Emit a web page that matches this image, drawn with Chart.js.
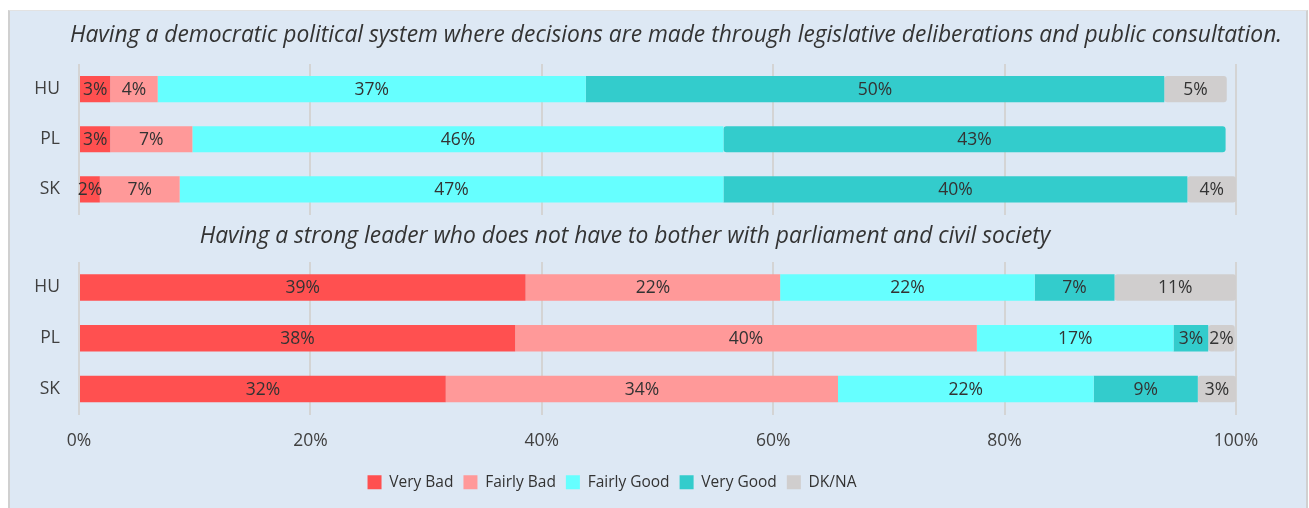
<!DOCTYPE html>
<html>
<head>
<meta charset="utf-8">
<script src="https://cdn.jsdelivr.net/npm/chart.js@4.4.1/dist/chart.umd.min.js"></script>
<style>
  html, body { margin: 0; padding: 0; background: #ffffff; }
  #panel {
    position: absolute; left: 8px; top: 10px; width: 1296px; height: 500px;
    background: #dde8f4; border-left: 2px solid #d0d0d0; border-right: 2px solid #d0d0d0;
    border-top: 1px solid #e2e2e2;
  }
  #topWrap { position: absolute; left: 0; top: 10px; width: 1309px; height: 234px; }
  #botWrap { position: absolute; left: 0; top: 215px; width: 1309px; height: 293px; }
</style>
</head>
<body>
<div id="panel"></div>
<div id="topWrap"><canvas id="topChart"></canvas></div>
<div id="botWrap"><canvas id="botChart"></canvas></div>
<script>
// ========================================================
// Data
// ========================================================
const countries = ["HU", "PL", "SK"];
const seriesNames = ["Very Bad", "Fairly Bad", "Fairly Good", "Very Good", "DK/NA"];
const seriesColors = ["#ff5050", "#ff9999", "#66ffff", "#33cccc", "#d0cece"];

// Having a democratic political system ...
const demTitle = "Having a democratic political system where decisions are made through legislative deliberations and public consultation.";
const demVeryBad = [2.7, 2.7, 1.8];
const demFairlyBad = [4.1, 7.1, 6.9];
const demFairlyGood = [37.0, 45.9, 47.0];
const demVeryGood = [50.0, 43.4, 40.1];
const demDkNa = [5.4, 0, 4.2];

// Having a strong leader ...
const leaderTitle = "Having a strong leader who does not have to bother with parliament and civil society";
const leaderVeryBad = [38.6, 37.7, 31.7];
const leaderFairlyBad = [22.0, 39.9, 33.9];
const leaderFairlyGood = [22.0, 17.0, 22.1];
const leaderVeryGood = [6.9, 3.0, 9.0];
const leaderDkNa = [10.5, 2.3, 3.3];

const xTicks = [0, 20, 40, 60, 80, 100];

const FONT = "'Open Sans', 'DejaVu Sans', sans-serif";
const TEXT = "#404040";

// ========================================================
// Plugins
// ========================================================
const barLabels = {
  id: "barLabels",
  afterDatasetsDraw(chart) {
    const ctx = chart.ctx;
    ctx.save();
    ctx.font = "17.5px " + FONT;
    ctx.fillStyle = "#333333";
    ctx.textAlign = "center";
    ctx.textBaseline = "middle";
    chart.data.datasets.forEach((ds, i) => {
      chart.getDatasetMeta(i).data.forEach((bar, j) => {
        const v = ds.data[j];
        if (!v) return;
        ctx.fillText(Math.round(v) + "%", (bar.x + bar.base) / 2, bar.y + 1);
      });
    });
    ctx.restore();
  },
};

const panelTitle = {
  id: "panelTitle",
  afterDraw(chart, args, opts) {
    const ctx = chart.ctx;
    ctx.save();
    ctx.font = "italic 22.8px " + FONT;
    ctx.fillStyle = "#333333";
    ctx.textAlign = "center";
    ctx.textBaseline = "middle";
    ctx.fillText(opts.text, opts.x, opts.y);
    ctx.restore();
  },
};

const legendShift = {
  id: "legendShift",
  afterLayout(chart, args, opts) {
    if (chart.legend && opts.dx) {
      chart.legend.left += opts.dx;
      chart.legend.right += opts.dx;
    }
  },
};

// ========================================================
// Chart builder
// ========================================================
function makeDatasets(rows) {
  return seriesNames.map((name, i) => ({
    label: name,
    data: rows[i],
    backgroundColor: seriesColors[i],
    borderColor: seriesColors[i],
    borderWidth: 0,
    borderRadius: 3,
    borderSkipped: false,
    barPercentage: 0.52,
    categoryPercentage: 1,
  }));
}

function makeChart(id, rows, title, opt) {
  return new Chart(document.getElementById(id).getContext("2d"), {
    type: "bar",
    data: { labels: countries, datasets: makeDatasets(rows) },
    plugins: [barLabels, panelTitle, legendShift],
    options: {
      indexAxis: "y",
      responsive: true,
      maintainAspectRatio: false,
      animation: false,
      layout: { padding: opt.padding },
      plugins: {
        legend: {
          display: opt.legend,
          position: "bottom",
          labels: {
            boxWidth: 14,
            boxHeight: 14,
            padding: 10,
            color: "#333333",
            font: { family: FONT, size: 15.5 },
          },
        },
        tooltip: { enabled: false },
        panelTitle: { text: title, x: opt.titleX, y: opt.titleY },
        legendShift: { dx: opt.legendDx || 0 },
      },
      scales: {
        x: {
          stacked: true,
          min: 0,
          max: 100,
          afterBuildTicks: (scale) => {
            scale.ticks = xTicks.map((v) => ({ value: v }));
          },
          afterFit: (scale) => {
            scale.height += opt.xExtra || 0;
          },
          ticks: {
            display: opt.xLabels,
            color: TEXT,
            padding: 16,
            font: { family: FONT, size: 17.5 },
            callback: (v) => v + "%",
          },
          grid: { color: "#d4d4d4", lineWidth: 2, drawTicks: false },
          border: { display: false },
        },
        y: {
          stacked: true,
          afterFit: (scale) => {
            scale.width = 79;
          },
          ticks: {
            color: TEXT,
            padding: 19,
            font: { family: FONT, size: 17.5 },
          },
          grid: { display: false, drawTicks: false },
          border: { display: false },
        },
      },
    },
  });
}

makeChart(
  "topChart",
  [demVeryBad, demFairlyBad, demFairlyGood, demVeryGood, demDkNa],
  demTitle,
  { padding: { top: 54, bottom: 2, left: 0, right: 73 }, legend: false, xLabels: false, titleX: 676, titleY: 26 }
);

makeChart(
  "botChart",
  [leaderVeryBad, leaderFairlyBad, leaderFairlyGood, leaderVeryGood, leaderDkNa],
  leaderTitle,
  { padding: { top: 47, bottom: 8, left: 0, right: 73 }, legend: true, xLabels: true, titleX: 625, titleY: 22, legendDx: -6, xExtra: -3 }
);
</script>
</body>
</html>
